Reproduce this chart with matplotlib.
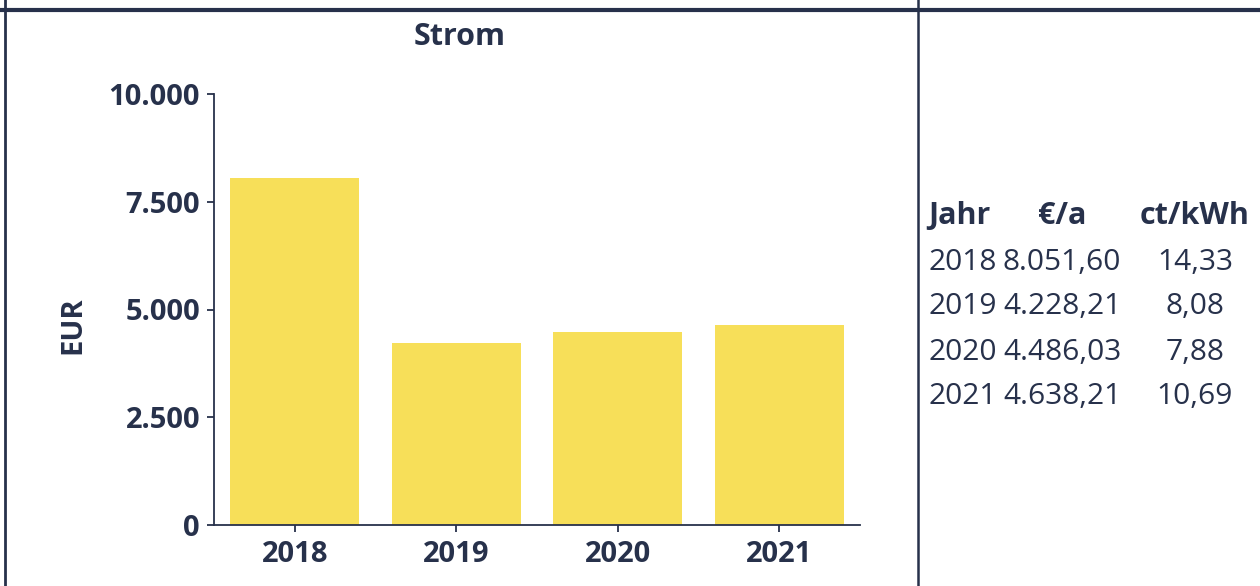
import matplotlib
matplotlib.use("Agg")
import matplotlib.pyplot as plt
from matplotlib.lines import Line2D

plt.rcParams['font.family'] = ['Open Sans', 'DejaVu Sans']

years = ["2018", "2019", "2020", "2021"]
costs = [8051.60, 4228.21, 4486.03, 4638.21]
ct_kwh = [14.33, 8.08, 7.88, 10.69]
yticks = [0, 2500, 5000, 7500, 10000]
ytick_labels = ["0", "2.500", "5.000", "7.500", "10.000"]
title = "Strom"
ylabel = "EUR"
table_header = ["Jahr", "€/a", "ct/kWh"]

NAVY = "#27314b"
YELLOW = "#f7df59"
W, H = 1260, 586

def de_num(v, dec=2):
    s = f"{v:,.{dec}f}"
    return s.replace(",", "X").replace(".", ",").replace("X", ".")

fig = plt.figure(figsize=(W / 100, H / 100), dpi=100)
ax = fig.add_axes([214 / W, (H - 525) / H, (860 - 214) / W, (525 - 94) / H])

x = list(range(len(years)))
ax.bar(x, costs, width=0.8, color=YELLOW, zorder=1)
ax.set_xlim(-0.5, len(years) - 0.5)
ax.set_ylim(0, 10000)
ax.set_xticks(x)
ax.set_xticklabels(years)
ax.set_yticks(yticks)
ax.set_yticklabels(ytick_labels)

for s in ["top", "right"]:
    ax.spines[s].set_visible(False)
for s in ["left", "bottom"]:
    ax.spines[s].set_color(NAVY)
    ax.spines[s].set_linewidth(1.3)
    ax.spines[s].set_zorder(3)
ax.tick_params(axis="both", colors=NAVY, length=5, width=1.3, direction="out")
ax.tick_params(axis="y", pad=5)
ax.tick_params(axis="x", pad=6)
for lab in ax.get_xticklabels() + ax.get_yticklabels():
    lab.set_fontsize(21)
    lab.set_fontweight("bold")
    lab.set_color(NAVY)

fig.text(460 / W, 1 - 37 / H, title, ha="center", va="center",
         fontsize=22, fontweight="bold", color=NAVY)
fig.text(73 / W, 1 - 325 / H, ylabel, ha="center", va="center", rotation=90,
         fontsize=21, fontweight="bold", color=NAVY)

# table
col_x = [960, 1062, 1195]
fig.text(928 / W, 1 - 216 / H, table_header[0], ha="left", va="center",
         fontsize=22, fontweight="bold", color=NAVY)
for cx, h in zip(col_x[1:], table_header[1:]):
    fig.text(cx / W, 1 - 216 / H, h, ha="center", va="center",
             fontsize=22, fontweight="bold", color=NAVY)
row_y = [262, 307, 352, 396]
for ry, yr, c, k in zip(row_y, years, costs, ct_kwh):
    fig.text(928 / W, 1 - ry / H, yr, ha="left", va="center", fontsize=21.5, color=NAVY)
    fig.text(col_x[1] / W, 1 - ry / H, de_num(c), ha="center", va="center", fontsize=21.5, color=NAVY)
    fig.text(col_x[2] / W, 1 - ry / H, de_num(k), ha="center", va="center", fontsize=21.5, color=NAVY)

# frame lines
fig.add_artist(Line2D([0, 1], [1 - 10 / H, 1 - 10 / H], color=NAVY, linewidth=3, transform=fig.transFigure))
fig.add_artist(Line2D([4.5 / W, 4.5 / W], [0, 1], color=NAVY, linewidth=2, transform=fig.transFigure))
fig.add_artist(Line2D([917.5 / W, 917.5 / W], [0, 1], color=NAVY, linewidth=1.8, transform=fig.transFigure))

fig.savefig("out.png", dpi=100)
